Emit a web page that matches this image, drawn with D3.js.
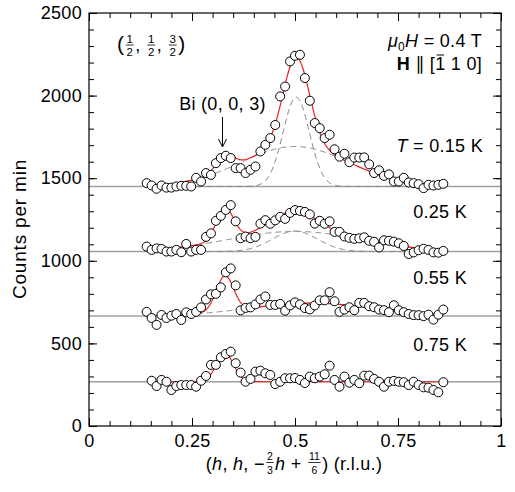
<!DOCTYPE html>
<html><head><meta charset="utf-8">
<script src="https://cdn.jsdelivr.net/npm/d3@7"></script>
<style>
body{margin:0;background:#fff}
text{font-family:"Liberation Sans",Arial,Helvetica,"DejaVu Sans",sans-serif;fill:#000;white-space:pre}
</style>
</head><body>
<svg id="c" width="515" height="492"></svg>
<script>
// ---- data ----
const hAll = [0.140,0.152,0.164,0.176,0.188,0.200,0.212,0.224,0.236,0.248,0.260,0.272,0.284,0.296,0.308,0.320,0.332,0.344,0.356,0.368,0.380,0.392,0.404,0.416,0.428,0.440,0.452,0.464,0.476,0.488,0.500,0.512,0.524,0.536,0.548,0.560,0.572,0.584,0.596,0.608,0.620,0.632,0.644,0.656,0.668,0.680,0.692,0.704,0.716,0.728,0.740,0.752,0.764,0.776,0.788,0.800,0.812,0.824,0.836,0.848,0.860];
const h075 = [0.152,0.164,0.176,0.188,0.200,0.212,0.224,0.236,0.248,0.260,0.272,0.284,0.296,0.308,0.320,0.332,0.344,0.356,0.368,0.380,0.392,0.404,0.416,0.428,0.440,0.452,0.464,0.476,0.488,0.500,0.512,0.524,0.536,0.548,0.560,0.572,0.584,0.596,0.608,0.620,0.632,0.644,0.656,0.668,0.680,0.692,0.704,0.716,0.728,0.740,0.752,0.764,0.776,0.788,0.800,0.812,0.824,0.836,0.848,0.860];

const counts015 = [1470,1456,1436,1456,1443,1443,1450,1454,1454,1450,1502,1480,1531,1520,1591,1622,1636,1622,1561,1561,1531,1551,1571,1662,1702,1743,1822,1995,2055,2207,2241,2247,2106,1969,1834,1803,1743,1763,1675,1630,1648,1597,1625,1625,1626,1584,1531,1548,1514,1523,1480,1480,1502,1474,1470,1464,1440,1460,1456,1460,1466];
const counts025 = [1086,1066,1075,1072,1056,1056,1066,1052,1102,1056,1066,1066,1145,1166,1242,1272,1308,1337,1239,1137,1147,1137,1145,1225,1246,1224,1245,1266,1254,1290,1307,1302,1296,1281,1225,1242,1224,1239,1175,1175,1147,1139,1133,1136,1142,1121,1115,1081,1124,1121,1116,1106,1090,1041,1051,1064,1073,1066,1051,1049,1060];
const counts055 = [691,654,612,672,654,668,678,642,688,678,691,718,766,797,800,839,930,954,851,700,715,718,736,766,784,733,733,739,698,730,748,736,714,706,730,761,761,810,755,691,705,719,701,745,745,725,719,705,701,689,731,701,689,678,671,671,665,674,644,674,705];
const counts075 = [274,242,279,268,218,242,248,248,248,238,274,303,370,370,416,436,450,380,323,268,285,329,335,319,309,254,268,289,289,291,279,260,299,289,299,313,365,279,238,299,262,279,259,305,305,285,268,238,268,273,268,265,248,268,248,234,232,218,204,265];

const tempLabels = ["0.15 K","0.25 K","0.55 K","0.75 K"];
const baselines  = [1450,1056,666,268];
// fit components (Gaussian parameters)
const biCenter = 0.33, biSigma = 0.021;
const biAmp     = [89,193,215,172];
const narrowCenter = [0.503,0.5,0.5,0.5];
const narrowSigma  = [0.032,0.055,0.05,0.05];
const narrowAmp    = [540,124,0,0];
const broadCenter  = [0.5,0.5,0.54,0.5];
const broadSigma   = [0.13,0.16,0.15,0.15];
const broadAmp     = [242,122,78,0];

const xTickVals = [0,0.25,0.5,0.75,1];
const xTickLabels = ["0","0.25","0.5","0.75","1"];
const yTickVals = [0,500,1000,1500,2000,2500];
const yTickLabels = ["0","500","1000","1500","2000","2500"];
const yTitle = "Counts per min";

// ---- drawing ----
const svg = d3.select("#c");
const L=89, R=501, T=13, B=426;
const x = d3.scaleLinear().domain([0,1]).range([L,R]);
const y = d3.scaleLinear().domain([0,2500]).range([B,T]);
const FS = 18;
const LS = "0.3px";

const series = [
  {h:hAll, v:counts015},
  {h:hAll, v:counts025},
  {h:hAll, v:counts055},
  {h:h075, v:counts075}
];
const gauss = (hh,c,s,a)=> a*Math.exp(-((hh-c)*(hh-c))/(2*s*s));

// baselines
baselines.forEach(b=>{
  svg.append("line").attr("x1",L).attr("x2",R).attr("y1",y(b)).attr("y2",y(b))
    .attr("stroke","#a0a0a0").attr("stroke-width",1.5);
});

const line = d3.line().x(d=>x(d[0])).y(d=>y(d[1])).curve(d3.curveLinear);
series.forEach((s,i)=>{
  const h0=s.h[0], h1=s.h[s.h.length-1];
  const grid = d3.range(h0, h1+1e-9, 0.002);
  if (narrowAmp[i]>0){
    svg.append("path").attr("d", line(grid.map(g=>[g, baselines[i]+gauss(g,narrowCenter[i],narrowSigma[i],narrowAmp[i])])))
      .attr("fill","none").attr("stroke","#858585").attr("stroke-width",1).attr("stroke-dasharray","6,4");
  }
  if (broadAmp[i]>0){
    svg.append("path").attr("d", line(grid.map(g=>[g, baselines[i]+gauss(g,broadCenter[i],broadSigma[i],broadAmp[i])])))
      .attr("fill","none").attr("stroke","#858585").attr("stroke-width",1).attr("stroke-dasharray","6,4");
  }
  svg.append("path").attr("d", line(grid.map(g=>[g, baselines[i]
      + gauss(g,biCenter,biSigma,biAmp[i])
      + gauss(g,narrowCenter[i],narrowSigma[i],narrowAmp[i])
      + gauss(g,broadCenter[i],broadSigma[i],broadAmp[i])])))
    .attr("fill","none").attr("stroke","#f02020").attr("stroke-width",1.2);
});
series.forEach(s=>{
  svg.append("g").selectAll("circle").data(s.h.map((hh,k)=>[hh,s.v[k]])).join("circle")
    .attr("cx",d=>x(d[0])).attr("cy",d=>y(d[1])).attr("r",4.5)
    .attr("fill","#fff").attr("stroke","#000").attr("stroke-width",1);
});

// axes with inward ticks
function styleAxis(g){ g.select(".domain").remove(); g.selectAll("line").attr("stroke","#000"); g.selectAll("text").attr("font-size",FS).attr("font-family",null).attr("letter-spacing",LS); }
const xMinor = d3.range(0,1.0001,0.05);
const yMinor = d3.range(0,2501,100);
svg.append("g").attr("transform",`translate(0,${B})`).call(d3.axisBottom(x).tickValues(xMinor).tickSize(-5).tickFormat("")).call(styleAxis);
svg.append("g").attr("transform",`translate(0,${B})`).call(d3.axisBottom(x).tickValues(xTickVals).tickSize(-8).tickPadding(8).tickFormat((d,i)=>xTickLabels[i])).call(styleAxis);
svg.append("g").attr("transform",`translate(0,${T})`).call(d3.axisTop(x).tickValues(xMinor).tickSize(-5).tickFormat("")).call(styleAxis);
svg.append("g").attr("transform",`translate(0,${T})`).call(d3.axisTop(x).tickValues(xTickVals).tickSize(-8).tickFormat("")).call(styleAxis);
svg.append("g").attr("transform",`translate(${L},0)`).call(d3.axisLeft(y).tickValues(yMinor).tickSize(-5).tickFormat("")).call(styleAxis);
svg.append("g").attr("transform",`translate(${L},0)`).call(d3.axisLeft(y).tickValues(yTickVals).tickSize(-8).tickPadding(7).tickFormat((d,i)=>yTickLabels[i])).call(styleAxis);
svg.append("g").attr("transform",`translate(${R},0)`).call(d3.axisRight(y).tickValues(yMinor).tickSize(-5).tickFormat("")).call(styleAxis);
svg.append("g").attr("transform",`translate(${R},0)`).call(d3.axisRight(y).tickValues(yTickVals).tickSize(-8).tickFormat("")).call(styleAxis);
svg.append("rect").attr("x",L).attr("y",T).attr("width",R-L).attr("height",B-T).attr("fill","none").attr("stroke","#000").attr("stroke-width",1.2);

// y title
svg.append("text").attr("transform",`translate(26,${229}) rotate(-90)`).attr("text-anchor","middle")
  .attr("font-size",19).attr("letter-spacing","0.8px").text(yTitle);

// rich text layout helper
function rich(parts, px, py, anchor, base){
  const g = svg.append("g");
  let cx = 0;
  parts.forEach(p=>{
    if (p.frac){
      const fs = p.fs || base*0.6;
      const n = g.append("text").attr("font-size",fs).attr("text-anchor","middle").text(p.frac[0]);
      const d = g.append("text").attr("font-size",fs).attr("text-anchor","middle").text(p.frac[1]);
      const w = Math.max(n.node().getComputedTextLength(), d.node().getComputedTextLength())+1.5;
      const mid = cx + 1.5 + w/2;
      n.attr("x",mid).attr("y",p.ny);
      d.attr("x",mid).attr("y",p.dy);
      g.append("line").attr("x1",mid-w/2).attr("x2",mid+w/2).attr("y1",p.by).attr("y2",p.by).attr("stroke","#000").attr("stroke-width",0.8);
      cx = mid + w/2 + 1.5;
    } else {
      const t = g.append("text").attr("x",cx).attr("y",p.dy||0).attr("font-size",p.fs||base).attr("letter-spacing",LS).text(p.t);
      if (p.it) t.attr("font-style","italic");
      if (p.b) t.attr("font-weight","bold");
      const w = t.node().getComputedTextLength();
      if (p.over){ g.append("line").attr("x1",cx+1.5).attr("x2",cx+w-1.5).attr("y1",-15).attr("y2",-15).attr("stroke","#000").attr("stroke-width",1); }
      cx += w + (p.gap||0);
    }
  });
  const sh = anchor==="end" ? -cx : anchor==="middle" ? -cx/2 : 0;
  g.attr("transform",`translate(${px+sh},${py})`);
  return g;
}

// x title
rich([
  {t:"("},{t:"h",it:1},{t:", "},{t:"h",it:1},{t:", −"},
  {frac:["2","3"],fs:10.5,ny:-10.5,dy:3.5,by:-7.5},
  {t:"h",it:1},{t:" + "},
  {frac:["11","6"],fs:10.5,ny:-10.5,dy:3.5,by:-7.5},
  {t:") (r.l.u.)"}
], 294, 470, "middle", FS);

// top-left (1/2, 1/2, 3/2)
rich([
  {t:"(",fs:21},{frac:["1","2"],fs:11.5,ny:-8.5,dy:4.5,by:-6},{t:", "},
  {frac:["1","2"],fs:11.5,ny:-8.5,dy:4.5,by:-6},{t:", "},
  {frac:["3","2"],fs:11.5,ny:-8.5,dy:4.5,by:-6},{t:")",fs:21}
], 117, 51, "start", FS);

// field labels
rich([{t:"μ",it:1},{t:"0",fs:12,dy:4},{t:"H",it:1},{t:" = 0.4 T"}], 482, 47, "end", FS);
rich([{t:"H",b:1},{t:" ∥ ["},{t:"1",over:1},{t:" 1 0]"}], 482, 70, "end", FS);

// Bi annotation
svg.append("text").attr("x",222.5).attr("y",110).attr("text-anchor","middle").attr("font-size",FS).attr("letter-spacing",LS).text("Bi (0, 0, 3)");
svg.append("line").attr("x1",222.5).attr("x2",222.5).attr("y1",117).attr("y2",147).attr("stroke","#000").attr("stroke-width",1);
svg.append("path").attr("d","M218.5,139 L222.5,147 L226.5,139").attr("fill","none").attr("stroke","#000").attr("stroke-width",1);

// temperature labels
rich([{t:"T",it:1},{t:" = "+tempLabels[0]}], 483, 152, "end", FS);
[1,2,3].forEach((k,j)=>{
  svg.append("text").attr("x",467).attr("y",[218,284,351][j]).attr("text-anchor","end").attr("font-size",FS).attr("letter-spacing",LS).text(tempLabels[k]);
});
</script>
</body></html>
